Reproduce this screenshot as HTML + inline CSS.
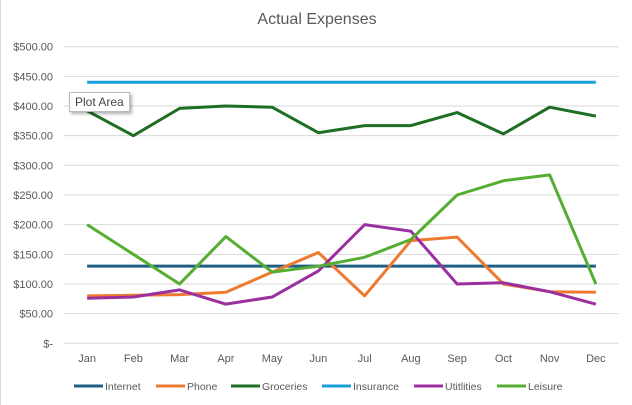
<!DOCTYPE html>
<html><head><meta charset="utf-8"><style>
body{margin:0;background:#fff;font-family:"Liberation Sans",sans-serif}
#wrap{position:relative;width:632px;height:405px;overflow:hidden;border-left:1px solid #d9d9d9;box-sizing:border-box}
</style></head><body>
<div id="wrap">
<svg id="svg" width="632" height="405"></svg>
<div style="position:absolute;left:68px;top:92px;padding:2px 5px;border:1px solid #bbb;background:#fff;font-size:12px;color:#444;box-shadow:2px 2px 3px rgba(0,0,0,.3)">Plot Area</div>
</div>
<script>
const months=["Jan","Feb","Mar","Apr","May","Jun","Jul","Aug","Sep","Oct","Nov","Dec"];
const yTicks=[0,50,100,150,200,250,300,350,400,450,500];
const seriesNames=["Internet","Phone","Groceries","Insurance","Utitlities","Leisure"];
const seriesColors=["#1f5f84","#ee7a30","#1e6e24","#1aa0dc","#9c2fa0","#55ae32"];
const internet=[130,130,130,130,130,130,130,130,130,130,130,130];
const phone=[80,81,82,86,120,153,80,173,179,100,87,86];
const groceries=[392,350,396,400,398,355,367,367,389,353,398,383];
const insurance=[440,440,440,440,440,440,440,440,440,440,440,440];
const utilities=[76,78,90,66,78,122,200,189,100,102,87,66];
const leisure=[200,150,100,180,120,130,145,175,250,274,284,100];
const allSeries=[internet,phone,groceries,insurance,utilities,leisure];
const NS="http://www.w3.org/2000/svg",svg=document.getElementById('svg');
const L=63,R=618,T=46.7,B=343.3;
const x=i=>L+(R-L)/months.length*(i+0.5);
const y=v=>B-(v/500)*(B-T);
function mk(t,a,txt){const e=document.createElementNS(NS,t);for(const k in a)e.setAttribute(k,a[k]);if(txt!=null)e.textContent=txt;svg.appendChild(e);return e;}
const title=mk('text',{x:316,y:24,'text-anchor':'middle','font-size':16,fill:'#595959'},'Actual Expenses');


yTicks.forEach(v=>{
 const g=mk('line',{x1:L,x2:R,y1:y(v),y2:y(v),stroke:'#d9d9d9','stroke-width':1});
 
 
 const t=mk('text',{x:52,y:y(v)+4,'text-anchor':'end','font-size':11,fill:'#595959'},v===0?'$-':'$'+v.toFixed(2));
 
 
});
months.forEach((m,i)=>{
 const t=mk('text',{x:x(i),y:362,'text-anchor':'middle','font-size':11,fill:'#595959'},m);
 
 
});
allSeries.forEach((s,k)=>{
 const p=mk('polyline',{points:s.map((v,i)=>x(i)+','+y(v)).join(' '),fill:'none',stroke:seriesColors[k],'stroke-width':3,'stroke-linejoin':'round'});
 
 
});
const lx=[73,155,230,321,413,496];
seriesNames.forEach((n,k)=>{
 const g=document.createElementNS(NS,'g');svg.appendChild(g);
 
 
 const ln=document.createElementNS(NS,'line');
 [['x1',lx[k]],['x2',lx[k]+29],['y1',386],['y2',386],['stroke',seriesColors[k]],['stroke-width',3]].forEach(a=>ln.setAttribute(a[0],a[1]));
 g.appendChild(ln);
 const t=document.createElementNS(NS,'text');
 [['x',lx[k]+31],['y',390],['font-size',10.5],['fill','#595959']].forEach(a=>t.setAttribute(a[0],a[1]));
 t.textContent=n;g.appendChild(t);
});
</script>
</body></html>
